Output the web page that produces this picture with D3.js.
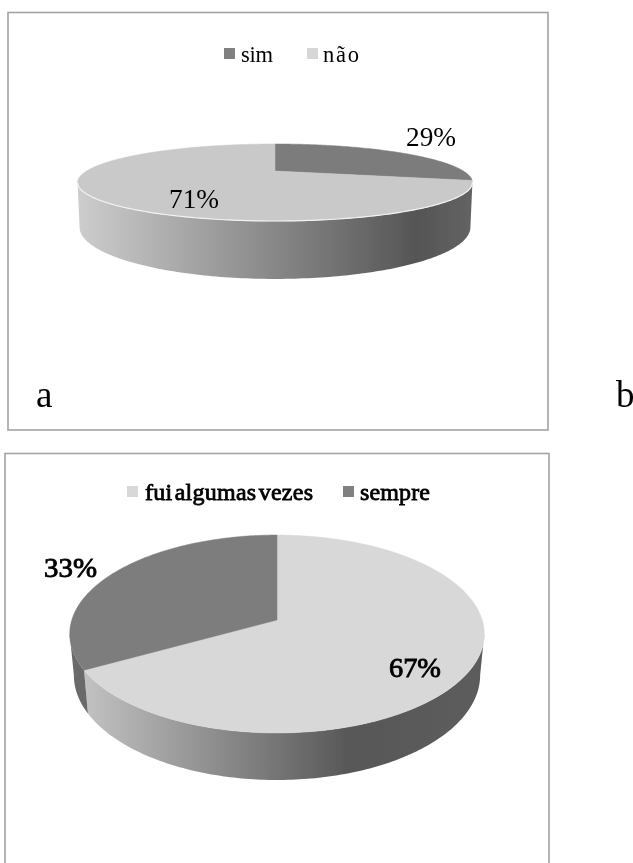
<!DOCTYPE html>
<html>
<head>
<meta charset="utf-8">
<script src="https://cdnjs.cloudflare.com/ajax/libs/d3/7.8.5/d3.min.js"></script>
<style>
html, body { margin: 0; padding: 0; background: #fff; overflow: hidden; }
text { font-family: "Liberation Serif", serif; fill: #000; }
</style>
</head>
<body>
<div id="chart"></div>
<script>
// Chart a
var categoriesA = ['sim', 'não'];
var valuesA = [29, 71];
var colorsA = ['#7b7b7b', '#c9c9c9'];
var legendColorsA = ['#808080', '#d6d6d6'];

// Chart b
var categoriesB = ['fui algumas vezes', 'sempre'];
var valuesB = [67, 33];
var colorsB = ['#d8d8d8', '#7d7d7d'];
var legendColorsB = ['#d8d8d8', '#808080'];

var panelLetters = ['a', 'b'];

var svg = d3.select("#chart")
    .append("svg")
    .attr("width", 633)
    .attr("height", 863);

var defs = svg.append("defs");
defs.append("filter").attr("id", "soft")
    .append("feGaussianBlur").attr("stdDeviation", 0.45);

// Frames round the two charts
function frame(x, y, w, h) {
    svg.append("rect")
        .attr("x", x).attr("y", y)
        .attr("width", w).attr("height", h)
        .style("fill", "none")
        .style("stroke", "#a3a3a3")
        .style("stroke-width", 1.6);
}
frame(8, 12.5, 540, 417.5);
frame(5, 453.5, 544, 430);

// Tilted disc: the perspective squeezes the back half of the pie
function makeProjection(p) {
    return function(angle, low) {
        var u = Math.sin(angle), v = -Math.cos(angle);
        var w = 1 + p.k * v;
        return [
            p.cx + (low ? p.lowScale : 1) * p.r * u / w,
            (p.b + p.a * v) / w + (low ? p.depth / w : 0)
        ];
    };
}

function gradient(id, stops, x1, x2) {
    var g = defs.append("linearGradient")
        .attr("id", id)
        .attr("gradientUnits", "userSpaceOnUse")
        .attr("x1", x1).attr("x2", x2)
        .attr("y1", 0).attr("y2", 0);
    stops.forEach(function(s) {
        g.append("stop").attr("offset", s[0]).attr("stop-color", s[1]);
    });
}

function drawPie(p, categories, values, colors, legendColors) {
    var g = svg.append("g").attr("filter", "url(#soft)");
    var project = makeProjection(p);
    var line = d3.line();
    var arcs = d3.pie().sort(null)(values);

    function sample(a0, a1) {
        var n = Math.max(2, Math.ceil((a1 - a0) * 60));
        return d3.range(n + 1).map(function(i) { return a0 + (a1 - a0) * i / n; });
    }

    // Only the near side of the wall can be seen
    var visibleFrom = Math.acos(p.k);
    var visibleTo = 2 * Math.PI - visibleFrom;

    arcs.forEach(function(d, i) {
        var a0 = Math.max(d.startAngle, visibleFrom);
        var a1 = Math.min(d.endAngle, visibleTo);
        if (a1 <= a0) return;
        var angles = sample(a0, a1);
        var top = angles.map(function(a) { return project(a, false); });
        var bottom = angles.slice().reverse().map(function(a) { return project(a, true); });
        g.append("path")
            .attr("d", line(top.concat(bottom)) + "Z")
            .style("fill", p.walls[i]);
    });

    // Top of the pie
    arcs.forEach(function(d, i) {
        var rim = sample(d.startAngle, d.endAngle).map(function(a) { return project(a, false); });
        var apex = [p.cx, p.b];
        g.append("path")
            .attr("d", line([apex].concat(rim)) + "Z")
            .style("fill", colors[i])
            .style("stroke", colors[i])
            .style("stroke-width", 0.5);
    });

    // Pale edge where top and wall meet
    if (p.rim) {
        g.append("path")
            .attr("d", line(sample(visibleFrom, visibleTo).map(function(a) { return project(a, false); })))
            .style("fill", "none")
            .style("stroke", p.rim)
            .style("stroke-width", 1.2);
    }

    // Legend
    categories.forEach(function(c, i) {
        var l = p.legend[i];
        g.append("rect")
            .attr("x", l.x).attr("y", p.legendY)
            .attr("width", 11).attr("height", 11)
            .style("fill", legendColors[i]);
        var t = g.append("text")
            .attr("x", l.tx).attr("y", p.legendY + p.legendBase)
            .attr("textLength", l.tw)
            .attr("lengthAdjust", "spacing")
            .style("font-size", p.legendSize + "px")
            .text(c);
        if (p.heavy) t.style("stroke", "#000").style("stroke-width", 0.8).style("word-spacing", "-4px");
    });

    // Percent labels
    values.forEach(function(v, i) {
        var l = p.labels[i];
        var t = g.append("text")
            .attr("x", l.x).attr("y", l.y)
            .attr("textLength", l.w)
            .attr("lengthAdjust", "spacingAndGlyphs")
            .style("font-size", p.labelSize + "px")
            .text(v + "%");
        if (p.heavy) t.style("stroke", "#000").style("stroke-width", 0.9);
    });
}

gradient("wallA", [[0, "#cdcdcd"], [0.86, "#555555"], [1, "#636363"]], 78, 472);
gradient("wallB", [[0, "#c2c2c2"], [0.66, "#585858"], [1, "#5c5c5c"]], 84, 484);

drawPie({
    cx: 275, r: 188.4, k: -0.2987, a: -16, b: 171, depth: 40.6, lowScale: 0.99,
    walls: ["url(#wallA)", "url(#wallA)"],
    rim: "#f2f2f2",
    legendY: 48, legendBase: 14, legendSize: 22.5,
    legend: [{ x: 224, tx: 241, tw: 32 }, { x: 307, tx: 323, tw: 36 }],
    labelSize: 28,
    labels: [{ x: 406, y: 146, w: 50 }, { x: 169, y: 208, w: 50 }]
}, categoriesA, valuesA, colorsA, legendColorsA);

drawPie({
    cx: 277, r: 205.2, k: -0.1414, a: 9.3, b: 620, depth: 40.4, lowScale: 0.98,
    walls: ["url(#wallB)", "#6a6a6a"],
    heavy: true,
    legendY: 486, legendBase: 13.5, legendSize: 24,
    legend: [{ x: 127, tx: 145, tw: 168 }, { x: 343, tx: 360, tw: 70 }],
    labelSize: 28,
    labels: [{ x: 389, y: 677, w: 52 }, { x: 44, y: 577, w: 53 }]
}, categoriesB, valuesB, colorsB, legendColorsB);

// Panel letters
svg.selectAll(".panel")
    .data(panelLetters)
    .enter().append("text")
    .attr("class", "panel")
    .attr("x", function(d, i) { return i === 0 ? 36 : 616; })
    .attr("y", 406.5)
    .attr("filter", "url(#soft)")
    .style("font-size", "37px")
    .text(function(d) { return d; });
</script>
</body>
</html>
